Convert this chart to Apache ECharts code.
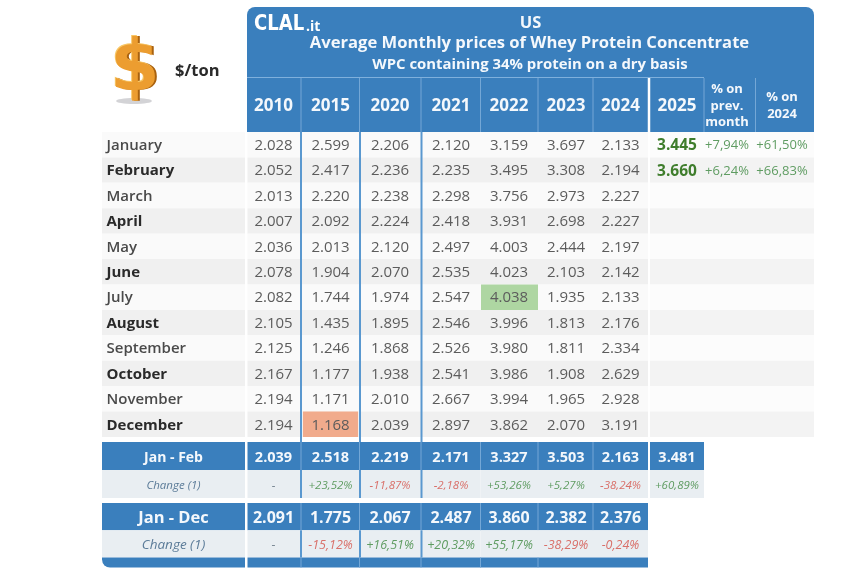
<!DOCTYPE html>
<html>
<head>
<meta charset="utf-8">
<style>html,body{margin:0;padding:0;background:#fff}#c{width:850px;height:571px}</style>
<script src="https://cdn.jsdelivr.net/npm/echarts@6/dist/echarts.min.js"></script>
</head>
<body>
<div id="c"></div>
<script>
// ---------- data ----------
const titleLines = ["US", "Average Monthly prices of Whey Protein Concentrate", "WPC containing 34% protein on a dry basis"];
const unitLabel = "$/ton";
const yearHeaders = ["2010", "2015", "2020", "2021", "2022", "2023", "2024", "2025", "% on\nprev.\nmonth", "% on\n2024"];
const months = ["January","February","March","April","May","June","July","August","September","October","November","December"];
const y2010 = [2028,2052,2013,2007,2036,2078,2082,2105,2125,2167,2194,2194];
const y2015 = [2599,2417,2220,2092,2013,1904,1744,1435,1246,1177,1171,1168];
const y2020 = [2206,2236,2238,2224,2120,2070,1974,1895,1868,1938,2010,2039];
const y2021 = [2120,2235,2298,2418,2497,2535,2547,2546,2526,2541,2667,2897];
const y2022 = [3159,3495,3756,3931,4003,4023,4038,3996,3980,3986,3994,3862];
const y2023 = [3697,3308,2973,2698,2444,2103,1935,1813,1811,1908,1965,2070];
const y2024 = [2133,2194,2227,2227,2197,2142,2133,2176,2334,2629,2928,3191];
const y2025 = [3445,3660];
const pctPrevMonth = [7.94,6.24];
const pctOn2024 = [61.50,66.83];
const janFebAvg = [2039,2518,2219,2171,3327,3503,2163,3481];
const janFebChange = [null,23.52,-11.87,-2.18,53.26,5.27,-38.24,60.89];
const janDecAvg = [2091,1775,2067,2487,3860,2382,2376];
const janDecChange = [null,-15.12,16.51,20.32,55.17,-38.29,-0.24];
const janFebRows = ["Jan - Feb","Change (1)"];
const janDecRows = ["Jan - Dec","Change (1)"];

// ---------- layout & style ----------
const FONT = '"Open Sans", sans-serif';
const BLUE = '#3a7fbd', LINE = '#5a98cf', FAINT = '#74a7d6';
const LABEL_L = 102, LABEL_R = 245, LABEL_MID = 173.5;
const colL = [247.5,301,359.5,421,480.5,538,593,650,704,755.5];
const colR = [301,359.5,421,480.5,538,593,648,704,755.5,814];
const colMid = [273.5,330.5,390,451,509,566,620.5,677,727,782];
const strongSeps = [301,360,421.5];
const TEXT_DY = 1;

const thousands = v => { const s = String(v); return s.slice(0,-3) + '.' + s.slice(-3); };
const percent = v => v == null ? '-' : (v >= 0 ? '+' : '-') + Math.abs(v).toFixed(2).replace('.', ',') + '%';
const allMonthly = [y2010,y2015,y2020,y2021,y2022,y2023,y2024].flat();
const maxVal = Math.max(...allMonthly), minVal = Math.min(...allMonthly);

function bounds(api, row) {
  const c = api.coord([0, row]);
  const h = api.size([0, 1])[1];
  return { top: c[1] - h / 2, h: h, mid: c[1], x: v => api.coord([v, row])[0] };
}
function rect(x0, x1, top, h, fill, r) {
  return { type: 'rect', shape: { x: x0, y: top, width: x1 - x0, height: h, r: r || 0 }, style: { fill: fill } };
}
function text(x, y, s, font, color, align) {
  return { type: 'text', x: x, y: y + TEXT_DY, style: { text: s, font: font, fill: color, align: align || 'center', verticalAlign: 'middle' } };
}
function series(gridIndex, data, render, z) {
  return { type: 'custom', coordinateSystem: 'cartesian2d', xAxisIndex: gridIndex, yAxisIndex: gridIndex,
           data: data, renderItem: render, z: z, clip: false, silent: true, animation: false };
}

// rows background for the monthly block
function renderRowBg(p, api) {
  const row = api.value(0), b = bounds(api, row);
  const fill = row % 2 ? '#f0f0f0' : '#fafafa';
  const fill2 = row % 2 ? '#f3f3f3' : '#fcfcfc';
  return { type: 'group', children: [
    rect(b.x(LABEL_L), b.x(LABEL_R), b.top, b.h, fill),
    rect(b.x(colL[0]), b.x(colR[6]), b.top, b.h, fill),
    rect(b.x(colL[7]), b.x(colR[9]), b.top, b.h, fill2)
  ]};
}
function renderMonthLabel(p, api) {
  const row = api.value(0), b = bounds(api, row);
  const even = row % 2 === 0;
  return text(b.x(LABEL_L + 4.5), b.mid, months[row], (even ? '600' : '700') + ' 15px ' + FONT, even ? '#4a4a4a' : '#2a2a2a', 'left');
}
function renderMonthValue(p, api) {
  const col = api.value(0), row = api.value(1), v = api.value(2), b = bounds(api, row);
  const ch = [];
  if (col < 7 && v === maxVal) ch.push(rect(b.x(colL[col] + 0.5), b.x(colR[col]), b.top, b.h, '#aed6a2'));
  if (col < 7 && v === minVal) ch.push(rect(b.x(colL[col] + 2), b.x(colR[col] - 1.5), b.top, b.h, '#f1ab8c'));
  if (col === 7) ch.push(text(b.x(colMid[col]), b.mid, thousands(v), '700 15.5px ' + FONT, '#3f7d2c'));
  else if (col > 7) ch.push(text(b.x(colMid[col]), b.mid, percent(v), '400 13px ' + FONT, '#5f9c62'));
  else ch.push(text(b.x(colMid[col]), b.mid, thousands(v), '400 15px ' + FONT, '#5c5c5c'));
  return { type: 'group', children: ch };
}
function renderHeader(p, api) {
  const col = api.value(0), b = bounds(api, 0), s = yearHeaders[col];
  const ch = [];
  if (col < 8) {
    const f = '700 17px ' + FONT;
    ch.push(text(b.x(colMid[col]), b.mid, s, f, '#f4f8fc'));
  } else {
    const lines = s.split('\n'), lh = 16.5;
    lines.forEach((l, i) => ch.push(text(b.x(colMid[col]), b.mid + (i - (lines.length - 1) / 2) * lh, l, '700 13px ' + FONT, '#f4f8fc')));
  }
  if (col < 9) {
    const x = col === 6 ? 649 : colR[col];
    ch.push({ type: 'line', shape: { x1: b.x(x), y1: b.top, x2: b.x(x), y2: b.top + b.h },
              style: { stroke: col === 6 ? '#ffffff' : FAINT, lineWidth: col === 6 ? 2.5 : 1 } });
  }
  return { type: 'group', children: ch };
}
function summary(rows, avg, change, o) {
  const dy = o.dy;
  const labelRender = (p, api) => {
    const row = api.value(0), b = bounds(api, row);
    return { type: 'group', children: [
      rect(b.x(LABEL_L), b.x(LABEL_R), b.top, b.h, row ? '#e9eef2' : BLUE),
      text(b.x(LABEL_MID), b.mid + dy, rows[row], row ? 'italic 400 ' + o.chLabel + 'px ' + FONT : '700 ' + o.label + 'px ' + FONT, row ? '#5b7b98' : '#f4f8fc')
    ]};
  };
  const valRender = (p, api) => {
    const col = api.value(0), b = bounds(api, 0);
    const x0 = colL[col], x1 = colR[col];
    return { type: 'group', children: [
      rect(b.x(x0), b.x(x1), b.top, b.h, BLUE),
      text(b.x(colMid[col]), b.mid + dy, thousands(api.value(2)), '700 ' + o.val + 'px ' + FONT, '#f4f8fc'),
      col > 0 && col < 7 ? { type: 'line', shape: { x1: b.x(colL[col]), y1: b.top, x2: b.x(colL[col]), y2: b.top + b.h }, style: { stroke: FAINT, lineWidth: 1 } } : { type: 'group' }
    ]};
  };
  const chRender = (p, api) => {
    const col = api.value(0), b = bounds(api, 1), i = p.dataIndex, v = change[i];
    const color = v == null ? '#7c8a96' : (v >= 0 ? '#5f9c62' : '#d9706a');
    return { type: 'group', children: [
      rect(b.x(colL[col]), b.x(colR[col]), b.top, b.h, '#e9eef2'),
      text(b.x(colMid[col]), b.mid + dy, percent(v), 'italic 400 ' + o.ch + 'px ' + FONT, color)
    ]};
  };
  const g = o.grid;
  return [
    series(g, rows.map((r, i) => [i]), labelRender, 2),
    series(g, avg.map((v, i) => [i, 0, v]), valRender, 2),
    series(g, change.map((v, i) => [i, 1, v == null ? 0 : v]), chRender, 2)
  ];
}
function renderSeps(p, api) {
  const x = api.value(0), b0 = bounds(api, 0), n = api.value(1);
  const y0 = b0.top, y1 = b0.top + b0.h * n + api.value(2);
  return { type: 'line', shape: { x1: b0.x(x), y1: y0, x2: b0.x(x), y2: y1 }, style: { stroke: LINE, lineWidth: 2 } };
}
function renderSepsLower(p, api) {
  const x = api.value(0), b = bounds(api, 1);
  return { type: 'line', shape: { x1: b.x(x), y1: b.top, x2: b.x(x), y2: b.top + b.h }, style: { stroke: LINE, lineWidth: 2 } };
}
function renderBottomBar(p, api) {
  const b = bounds(api, 1), top = b.top + b.h, h = 10;
  const ch = [ rect(b.x(LABEL_L), b.x(LABEL_R), top, h, BLUE, [0,0,0,8]), rect(b.x(colL[0]), b.x(colR[6]), top, h, BLUE) ];
  [1,2,3,4,5].forEach(i => ch.push({ type: 'line', shape: { x1: b.x(colL[i]), y1: top, x2: b.x(colL[i]), y2: top + h }, style: { stroke: FAINT, lineWidth: 1 } }));
  return { type: 'group', children: ch };
}

// grids: header / months / Jan-Feb / Jan-Dec
const grids = [
  { left: 0, width: 850, top: 78, height: 54 },
  { left: 0, width: 850, top: 132, height: 305 },
  { left: 0, width: 850, top: 442, height: 56 },
  { left: 0, width: 850, top: 503, height: 54.5 }
];
const yCats = [["head"], months, janFebRows, janDecRows];

const monthlyCols = [y2010,y2015,y2020,y2021,y2022,y2023,y2024,y2025,pctPrevMonth,pctOn2024];
const monthCells = [];
monthlyCols.forEach((arr, c) => arr.forEach((v, r) => monthCells.push([c, r, v])));

const DOLLAR_FONT = '700 71px "DejaVu Sans", sans-serif';
function dollar(x, y, color, z) {
  return { type: 'text', z: z, x: x, y: y, style: { text: '$', font: DOLLAR_FONT, fill: color, align: 'center', verticalAlign: 'middle' } };
}

const option = {
  backgroundColor: '#ffffff',
  animation: false,
  title: [
    { text: titleLines[0], left: 525.5, top: 10, textAlign: 'center', textStyle: { fontFamily: FONT, fontWeight: 700, fontSize: 16.5, color: '#f4f8fc' } },
    { text: titleLines[1], left: 524.5, top: 30, textAlign: 'center', textStyle: { fontFamily: FONT, fontWeight: 700, fontSize: 16.6, color: '#f4f8fc' } },
    { text: titleLines[2], left: 525, top: 52, textAlign: 'center', textStyle: { fontFamily: FONT, fontWeight: 700, fontSize: 14.9, color: '#f4f8fc' } },
    { text: unitLabel, left: 170, top: 58, textStyle: { fontFamily: FONT, fontWeight: 700, fontSize: 16.5, color: '#2a2a2a' } }
  ],
  grid: grids,
  xAxis: grids.map((g, i) => ({ type: 'value', gridIndex: i, min: 0, max: 850, show: false })),
  yAxis: grids.map((g, i) => ({ type: 'category', gridIndex: i, inverse: true, data: yCats[i], show: false })),
  graphic: [
    { type: 'rect', z: -5, shape: { x: 247, y: 7, width: 567, height: 125, r: [8,8,0,0] }, style: { fill: BLUE } },
    { type: 'line', z: -4, shape: { x1: 247, y1: 77.5, x2: 704, y2: 77.5 }, style: { stroke: '#7fb0dc', lineWidth: 1 } },
    { type: 'text', z: 5, x: 254, y: 13, scaleX: 0.82, style: { text: 'CLAL', font: '700 22px "DejaVu Sans", sans-serif', fill: '#ffffff' } },
    { type: 'text', z: 5, x: 306, y: 20, style: { text: '.it', font: '700 14px "Open Sans", sans-serif', fill: '#ffffff' } },
    { type: 'ellipse', z: 1, shape: { cx: 134, cy: 101, rx: 18, ry: 3 }, style: { fill: 'rgba(110,110,120,0.3)' } },
    dollar(137, 72, '#a9620f', 2),
    dollar(134, 71, '#f8c766', 3),
    dollar(135, 72, '#ec9d30', 4)
  ],
  series: [
    series(0, yearHeaders.map((s, i) => [i]), renderHeader, 2),
    series(1, months.map((m, i) => [i]), renderRowBg, 1),
    series(1, months.map((m, i) => [i]), renderMonthLabel, 2),
    series(1, monthCells, renderMonthValue, 2),
    series(1, strongSeps.map(x => [x, 12, 5]), renderSeps, 3),
    ...summary(janFebRows, janFebAvg, janFebChange, { grid: 2, dy: 1, chLabel: 11.5, label: 14, val: 14.5, ch: 11.5 }),
    series(2, strongSeps.map(x => [x]), renderSepsLower, 3),
    ...summary(janDecRows, janDecAvg, janDecChange, { grid: 3, dy: 0.5, chLabel: 13.5, label: 16.5, val: 16, ch: 12.5 }),
    series(3, strongSeps.map(x => [x]), renderSepsLower, 3),
    series(3, [[0]], renderBottomBar, 2)
  ]
};
const chart = echarts.init(document.getElementById('c'));
chart.setOption(option);
</script>
</body>
</html>
